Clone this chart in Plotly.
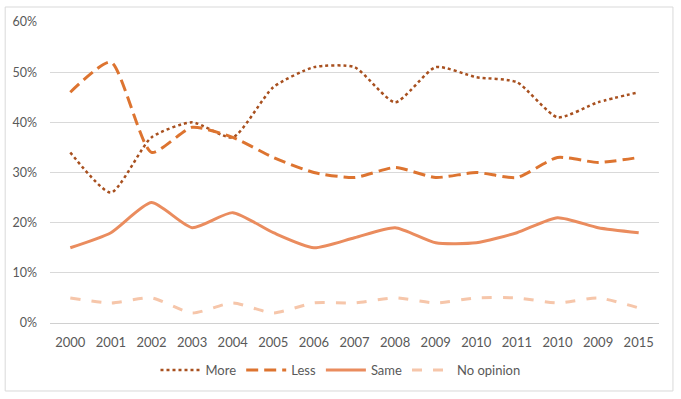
import plotly.graph_objects as go

tick_labels = ["2000", "2001", "2002", "2003", "2004", "2005", "2006", "2007",
               "2008", "2009", "2010", "2011", "2010", "2009", "2015"]
more = [34, 26, 37, 40, 37, 47, 51, 51, 44, 51, 49, 48, 41, 44, 46]
less = [46, 52, 34, 39, 37, 33, 30, 29, 31, 29, 30, 29, 33, 32, 33]
same = [15, 18, 24, 19, 22, 18, 15, 17, 19, 16, 16, 18, 21, 19, 18]
no_opinion = [5, 4, 5, 2, 4, 2, 4, 4, 5, 4, 5, 5, 4, 5, 3]

xpos = list(range(len(tick_labels)))

fig = go.Figure()
series = [
    ("More", more, "#A8501F", "dot", 2.5),
    ("Less", less, "#DD7430", "12px,6px", 3),
    ("Same", same, "#EA8C5E", "solid", 3),
    ("No opinion", no_opinion, "#F6C6AA", "10px,11px", 3),
]
for name, vals, color, dash, w in series:
    fig.add_trace(go.Scatter(
        x=xpos, y=vals, name=name, mode="lines",
        line=dict(color=color, dash=dash, width=w, shape="spline", smoothing=0.6),
        hoverinfo="skip",
    ))

fig.update_layout(
    width=681, height=399,
    margin=dict(l=48, r=22, t=22, b=76),
    paper_bgcolor="white", plot_bgcolor="white",
    font=dict(family="Lato, Liberation Sans, sans-serif", size=12, color="#595959"),
    showlegend=True,
    legend=dict(orientation="h", x=0.477, xanchor="center", y=-0.156, yanchor="middle",
                font=dict(size=13, color="#595959"), traceorder="normal",
                itemwidth=40),
    xaxis=dict(range=[-0.5, len(tick_labels) - 0.5], tickmode="array",
               tickvals=xpos, ticktext=tick_labels, showgrid=False,
               zeroline=False, showline=False, ticks="", ticklabelstandoff=10,
               tickfont=dict(size=13), fixedrange=True),
    yaxis=dict(range=[0, 60], tickvals=[0, 10, 20, 30, 40, 50, 60],
               ticktext=["0%", "10%", "20%", "30%", "40%", "50%", "60%"],
               showgrid=True, gridcolor="#D9D9D9", gridwidth=1,
               zeroline=True, zerolinecolor="#D0D0D0", zerolinewidth=1,
               showline=False, ticks="", ticklabelstandoff=12,
               tickfont=dict(size=12.5), fixedrange=True),
    shapes=[dict(type="rect", xref="paper", yref="paper",
                 x0=-0.0736, x1=1.0229, y0=-0.2259, y1=1.0498,
                 line=dict(color="#D9D9D9", width=1), layer="below")],
)

fig.write_html("out.html", config={"displayModeBar": False},
               post_script="document.body.style.margin='0';document.body.style.overflow='hidden';")
